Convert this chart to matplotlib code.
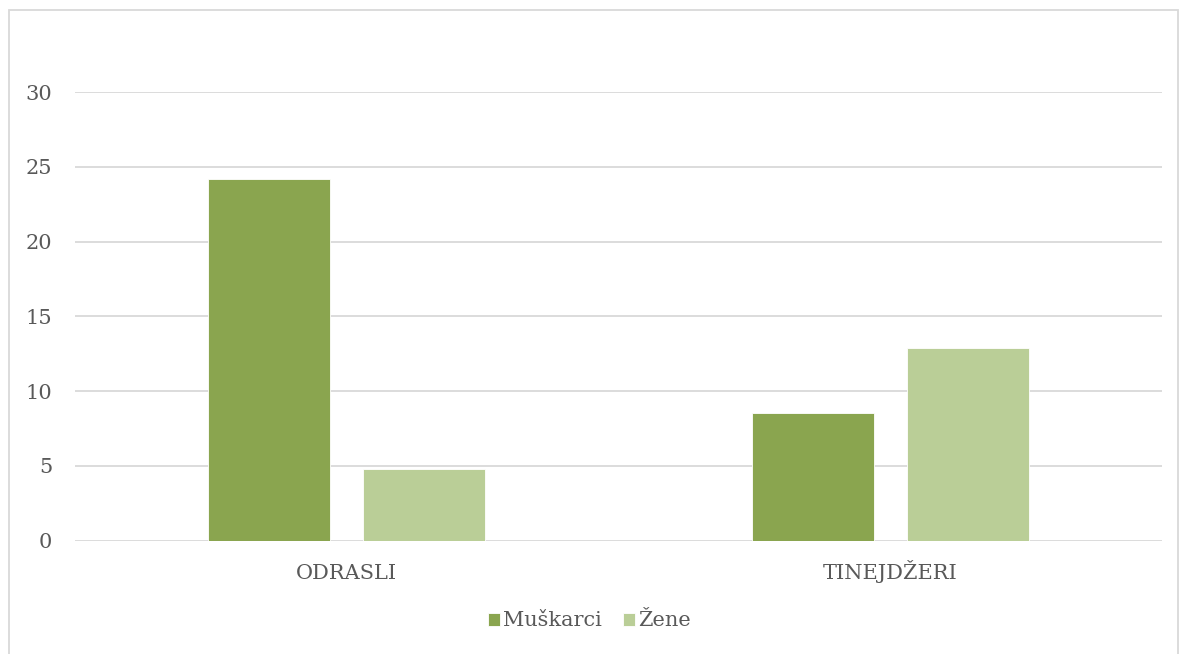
import numpy as np
import matplotlib
matplotlib.use("Agg")
from matplotlib import pyplot as plt
from matplotlib.patches import Rectangle

categories = ["ODRASLI", "TINEJDŽERI"]
muskarci = [24.2, 8.5]
zene = [4.8, 12.9]
series_names = ["Muškarci", "Žene"]
yticks = [0, 5, 10, 15, 20, 25, 30]

plt.rcParams['font.family'] = ['DejaVu Serif']
txt = '#595959'

fig = plt.figure(figsize=(11.79, 6.54), dpi=100)
ax = fig.add_axes([0.0636, 0.1735, 0.922, 0.6858])

x = np.arange(len(categories))
w = 0.2245
off = 0.1426
ax.bar(x - off, muskarci, w, color='#8AA54F', edgecolor='white', linewidth=0.6, label=series_names[0], zorder=3)
ax.bar(x + off, zene, w, color='#BACE97', edgecolor='white', linewidth=0.6, label=series_names[1], zorder=3)

ax.set_xlim(-0.5, 1.5)
ax.set_ylim(0, 30)
ax.set_yticks(yticks)
ax.set_xticks(x)
ax.set_xticklabels(categories, va='baseline')
ax.yaxis.grid(True, color='#D9D9D9', linewidth=1.3, zorder=0)
ax.set_axisbelow(True)
for s in ax.spines.values():
    s.set_visible(False)
ax.tick_params(axis='both', length=0, labelsize=15, colors=txt)
ax.tick_params(axis='y', pad=16.5)
ax.tick_params(axis='x', pad=27.5)

fig.legend(loc='center', bbox_to_anchor=(0.5, 1 - 621 / 654), ncol=2, frameon=False,
           fontsize=15, labelcolor=txt, handlelength=0.6, handleheight=0.6,
           handletextpad=0.15, columnspacing=1.0)

# chart border
fig.patches.append(Rectangle((9 / 1179, -0.05), 1169 / 1179, 1.05 - 10 / 654,
                             transform=fig.transFigure, fill=False,
                             edgecolor='#D9D9D9', linewidth=1.3))

plt.savefig('out.png', dpi=100)
